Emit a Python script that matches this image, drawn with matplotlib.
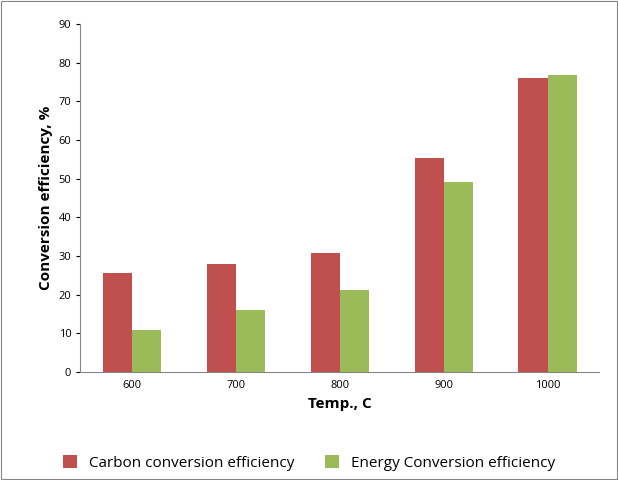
import numpy as np
import matplotlib.pyplot as plt

plt.rcParams['font.family'] = ['Open Sans', 'DejaVu Sans']

temps = ['600', '700', '800', '900', '1000']
carbon = [25.6, 27.9, 30.7, 55.3, 76.0]
energy = [10.9, 16.0, 21.2, 49.1, 76.7]

fig = plt.figure(figsize=(6.18, 4.8), dpi=100)
ax = fig.add_axes([0.13, 0.225, 0.84, 0.725])

x = np.arange(len(temps))
w = 0.28
ax.bar(x - w/2, carbon, w, color='#c0504d', label='Carbon conversion efficiency')
ax.bar(x + w/2, energy, w, color='#9bbb59', label='Energy Conversion efficiency')

ax.set_xlim(-0.5, len(temps) - 0.5)
ax.set_ylim(0, 90)
ax.set_yticks(range(0, 91, 10))
ax.set_xticks(x)
ax.set_xticklabels(temps)
ax.tick_params(labelsize=8, length=3)
ax.tick_params(axis='x', length=0, pad=6)
for s in ['top', 'right']:
    ax.spines[s].set_visible(False)
for s in ['left', 'bottom']:
    ax.spines[s].set_color('#868686')
ax.set_xlabel('Temp., C', fontsize=11, fontweight='bold')
ax.set_ylabel('Conversion efficiency, %', fontsize=11, fontweight='bold')

fig.legend(loc='lower center', ncol=2, frameon=False, fontsize=11,
           bbox_to_anchor=(0.5, -0.01), handlelength=0.9, handleheight=0.9,
           columnspacing=2.0)

fig.add_artist(plt.Rectangle((0.002, 0.002), 0.996, 0.996, fill=False,
                             edgecolor='#868686', lw=0.8, transform=fig.transFigure))

fig.savefig('out.png')
